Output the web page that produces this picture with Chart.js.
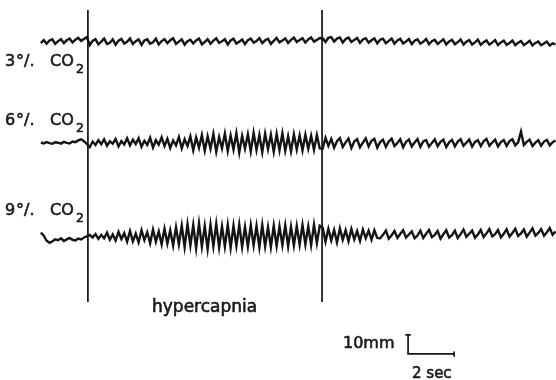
<!DOCTYPE html>
<html>
<head>
<meta charset="utf-8">
<script src="https://cdn.jsdelivr.net/npm/chart.js@4.4.1/dist/chart.umd.min.js"></script>
<style>
  html, body { margin: 0; padding: 0; background: #ffffff; }
  #wrap { width: 556px; height: 380px; position: relative; }
</style>
</head>
<body>
<div id="wrap"><canvas id="trace"></canvas></div>
<script>
// Respiratory traces under 3 %, 6 % and 9 % CO2, sampled every 0.125 s.
// Values are deflections in mm from each trace's resting line (up = positive).
const SAMPLE_DT = 0.125;          // s
const HYPERCAPNIA_ON = 2.17;      // s
const HYPERCAPNIA_OFF = 12.35;    // s
const CALIB_MM = 10;              // vertical calibration
const CALIB_SEC = 2;              // horizontal calibration

// 3 % CO2
const co2_3_pre = [-0.6, 1.0, -0.9, 0.8, 1.4, -1.0, 0.4, 1.5, -0.6, 0.9, 1.8, -0.2, 1.2, 2.2, 0.6, 1.6, 2.6];
const co2_3_during = [-1.6, 0.6, 1.5, -1.2, 0.2, 1.8, -1.0, -0.4, 1.4, -1.4, 0.7, 1.6, -0.8, 0.1, 1.9, -1.1, 0.4, 1.3,
  -1.5, 0.8, 1.4, -0.9, -0.2, 1.7, -1.3, 0.5, 1.5, -0.6, 0.9, 2.0, -1.0, 0.2, 1.4, -1.4, 0.4, 1.2, -0.8, 0.8, 1.8,
  -1.2, 0.0, 1.5, -0.9, 0.7, 1.9, -0.5, 0.4, 1.4, -1.3, 0.8, 1.7, -0.8, 0.1, 1.3, -1.1, 1.0, 1.8, -0.4, 0.5, 2.0,
  -0.6, 0.9, 1.7, -1.0, 0.6, 2.1, -0.2, 0.8, 1.9, -0.5, 1.1, 2.3, 0.0, 1.0, 2.0, -0.3, 1.3, 2.4, 0.2, 1.1, 2.1];
const co2_3_after = [2.0, 0.0, 2.2, 2.6, 0.2, 1.8, 2.4, -0.3, 1.6, 2.3, 0.0, 1.1, 2.1, -0.5, 1.3, 2.0, -0.4, 0.9,
  1.9, -0.7, 1.2, 1.7, -0.6, 0.6, 1.8, -0.9, 0.8, 1.6, -0.8, 0.3, 1.5, -1.1, 0.7, 1.4, -0.9, 0.1, 1.6, -1.2, 0.4,
  1.2, -1.0, 0.2, 1.4, -1.3, 0.3, 1.1, -1.2, -0.1, 1.3, -1.4, 0.1, 1.0, -1.3, -0.2, 1.2, -1.5, -0.1, 0.8, -1.4,
  -0.3, 1.0, -1.6, -0.2, 0.7, -1.5, -0.5, 0.8, -1.7, -0.4, 0.5, -1.6, -0.6, 0.6, -1.8, -0.5, 0.3, -1.7, -0.8,
  0.2, -1.9, -0.7, -1.2];

// 6 % CO2
const co2_6_pre = [0.3, -0.2, 0.5, 0.0, -0.4, 0.4, 0.2, -0.3, 0.6, 0.1, -0.2, 0.8, 0.5, 1.4, 2.0, 1.0, -0.5];
const co2_6_during = [-2.2, 0.8, -1.0, 1.5, -0.6, 2.0, -1.4, 0.9, -0.3, 2.2, -1.8, 1.0, -0.8, 2.5, -1.2, 1.8, -0.5,
  2.6, -2.0, 1.2, -1.0, 2.8, -2.4, 1.5, -0.8, 3.0, -1.6, 2.2, -2.6, 1.4, -1.2, 3.2, -2.8, 2.0, -1.5, 3.5,
  -3.8, 3.0, -2.5, 4.2, -4.0, 3.6, -3.0, 4.8, -4.5, 3.2, -2.8, 5.0, -4.2, 4.0, -3.4, 5.2, -5.0, 3.8, -3.0, 4.6,
  -4.4, 5.4, -3.6, 4.2, -4.8, 5.0, -3.2, 4.4, -4.6, 4.8, -3.8, 5.2, -4.0, 3.6, -4.4, 4.6, -3.4, 4.0, -3.8, 4.4,
  -3.0, 3.8, -3.6, 4.2, -2.8];
const co2_6_after = [-3.0, 2.8, -1.5, 2.2, -2.4, 1.0, 2.6, -2.0, 0.4, 2.4, -2.6, 0.8, 2.0, -2.2, 0.2, 2.5, -1.8,
  1.2, 2.2, -2.4, 0.5, 1.8, -2.0, 0.8, 2.3, -1.6, 0.0, 2.0, -2.2, 0.6, 1.9, -1.8, 0.3, 2.1, -2.0, 0.9, 1.6, -1.9,
  0.1, 2.0, -1.6, 0.7, 1.8, -2.1, 0.4, 1.7, -1.7, 0.8, 2.0, -1.5, 0.2, 1.9, -1.9, 0.6, 1.5, -1.6, 0.9, 2.2, -1.4,
  0.3, 1.8, -1.8, 0.5, 1.6, -1.5, 1.0, 2.0, -1.2, 0.4, 6.0, -1.0, 0.6, 1.8, -1.6, 0.2, 1.5, -1.4, 0.8, 1.7, -1.2,
  0.5, 1.4];

// 9 % CO2
const co2_9_pre = [1.8, 0.2, -2.5, -3.6, -2.8, -1.8, -2.2, -1.2, -2.6, -1.8, -1.0, -2.0, -2.4, -1.4, -1.8, -0.8, -0.2];
const co2_9_during = [0.5, -0.8, 1.0, -1.5, 0.6, -1.2, 1.8, -2.0, 0.8, -2.4, 2.2, -1.6, 1.5, -3.0, 2.6, -2.8, 1.2,
  -3.4, 3.0, -2.2, 2.0, -3.8, 3.4, -3.0, 2.4, -4.4, 3.8, -4.0, 3.0, -5.0, 4.6, -4.4,
  5.4, -5.8, 6.2, -5.0, 5.8, -6.4, 6.6, -5.6, 5.2, -6.8, 6.0, -5.4, 6.4, -6.0, 5.0, -5.6, 5.8, -6.2, 5.4, -5.2,
  6.0, -5.8, 4.8, -5.6, 5.6, -5.0, 5.2, -6.0, 5.8, -5.4, 4.6, -5.8, 5.4, -5.2, 5.0, -4.8, 5.6, -5.4, 4.8, -5.0,
  5.2, -4.6, 5.8, -4.4, 5.0, -4.8, 6.0, -3.8, 5.4];
const co2_9_after = [4.5, -3.0, 3.8, -2.4, 3.2, -3.4, 4.0, -2.0, 3.0, -2.8, 3.6, -1.8, 2.6, -2.6, 3.4, -1.2, 2.8,
  -2.0, 3.0, -1.0,
  -1.2, 0.6, 2.8, -1.4, 0.4, 2.6, -1.0, 1.0, 3.0, -0.8, 0.8, 2.4, -1.2, 0.2, 2.8, -1.0, 1.2, 3.2, -0.6, 0.6, 2.6,
  -1.4, 0.9, 3.0, -0.8, 0.4, 2.8, -1.1, 1.0, 3.4, -0.4, 1.2, 2.9, -0.9, 0.8, 3.2, -0.6, 1.4, 3.6, -0.2, 1.0, 3.1,
  -0.7, 1.2, 3.5, -0.3, 1.6, 3.8, 0.0, 1.4, 3.4, -0.4, 1.8, 4.0, 0.2, 1.6, 3.6, 0.1, 2.0, 4.2, 0.6, 2.4];

// Page layout (seconds / mm on the recorder paper)
const PX_PER_SEC = 23;
const PX_PER_MM = 1.9;
const W = 556, H = 380, LEFT = 38;
const TRACE_BASE_MM = [-22.1, -75.3, -124.2];
const MARKER_TOP_MM = -5.3, MARKER_BOTTOM_MM = -158.9;
const CALIB_T = 16.09, CALIB_Y = -186.3;

function trace(pre, during, after, base) {
  return pre.concat(during, after).map((v, i) => ({ x: SAMPLE_DT * (i + 1), y: base + v }));
}

const ink = '#141414';
const lineDs = (data, w) => ({
  data, borderColor: ink, borderWidth: w, pointRadius: 0, tension: 0,
  borderJoinStyle: 'miter', borderCapStyle: 'butt', fill: false, spanGaps: false
});

const markers = [
  { x: HYPERCAPNIA_ON, y: MARKER_TOP_MM }, { x: HYPERCAPNIA_ON, y: MARKER_BOTTOM_MM },
  { x: HYPERCAPNIA_ON, y: null },
  { x: HYPERCAPNIA_OFF, y: MARKER_TOP_MM }, { x: HYPERCAPNIA_OFF, y: MARKER_BOTTOM_MM }
];

const calib = [
  { x: CALIB_T - 0.12, y: CALIB_Y + CALIB_MM }, { x: CALIB_T + 0.12, y: CALIB_Y + CALIB_MM },
  { x: CALIB_T, y: null },
  { x: CALIB_T, y: CALIB_Y + CALIB_MM }, { x: CALIB_T, y: CALIB_Y },
  { x: CALIB_T + CALIB_SEC, y: CALIB_Y },
  { x: CALIB_T + CALIB_SEC, y: null },
  { x: CALIB_T + CALIB_SEC, y: CALIB_Y + 1.3 }, { x: CALIB_T + CALIB_SEC, y: CALIB_Y - 1.5 }
];

const labels = {
  id: 'labels',
  afterDraw(chart) {
    const c = chart.ctx;
    c.save();
    c.fillStyle = '#1a1a1a';
    c.strokeStyle = '#1a1a1a';
    c.lineWidth = 0.6;
    c.textBaseline = 'alphabetic';
    const font = s => s + 'px "DejaVu Sans", sans-serif';
    const put = (t, x, y) => { c.fillText(t, x, y); c.strokeText(t, x, y); };
    function co2(pct, x, y) {
      c.font = font(16);
      put(pct, x, y);
      put('°/.', x + 11, y);
      put('CO', 50, y);
      c.font = font(12.5);
      put('2', 76, y + 7);
    }
    co2('3', 5, 66);
    co2('6', 5, 125);
    co2('9', 5, 215);
    c.font = font(17);
    put('hypercapnia', 152, 312);
    c.font = font(16);
    put('10mm', 343, 348);
    c.font = font(15);
    put('2 sec', 412, 378);
    c.restore();
  }
};

new Chart(document.getElementById('trace'), {
  type: 'line',
  data: {
    datasets: [
      lineDs(trace(co2_3_pre, co2_3_during, co2_3_after, TRACE_BASE_MM[0]), 2.4),
      lineDs(trace(co2_6_pre, co2_6_during, co2_6_after, TRACE_BASE_MM[1]), 2.4),
      lineDs(trace(co2_9_pre, co2_9_during, co2_9_after, TRACE_BASE_MM[2]), 2.4),
      lineDs(markers, 1.7),
      lineDs(calib, 1.7)
    ]
  },
  options: {
    responsive: true,
    maintainAspectRatio: false,
    animation: false,
    events: [],
    layout: { padding: { left: LEFT, right: 0, top: 0, bottom: 0 } },
    plugins: { legend: { display: false }, tooltip: { enabled: false } },
    scales: {
      x: { type: 'linear', display: false, min: 0, max: (W - LEFT) / PX_PER_SEC },
      y: { type: 'linear', display: false, min: -H / PX_PER_MM, max: 0 }
    }
  },
  plugins: [labels]
});
</script>
</body>
</html>
